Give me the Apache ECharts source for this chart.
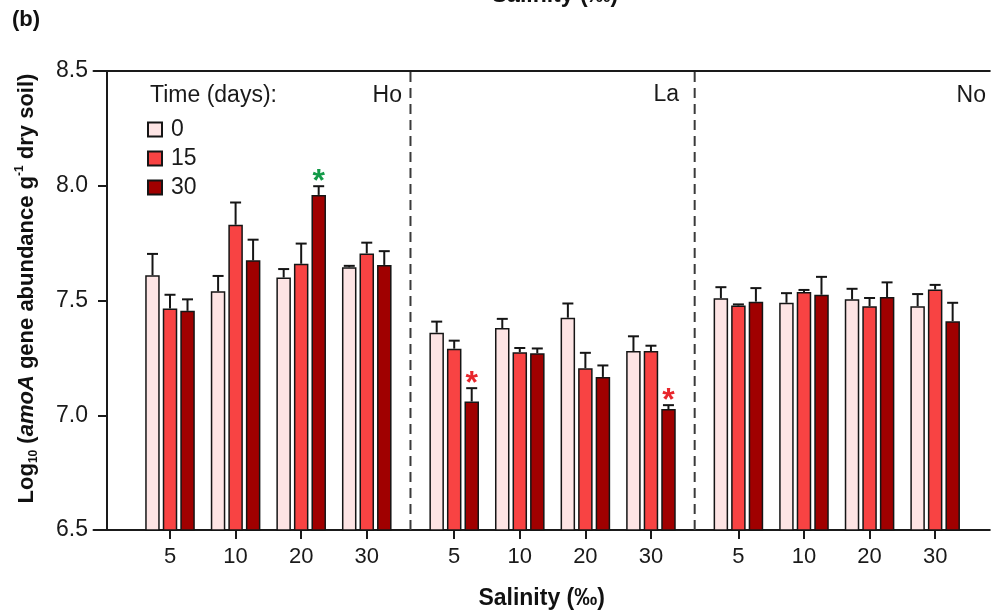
<!DOCTYPE html>
<html>
<head>
<meta charset="utf-8">
<script src="https://cdn.jsdelivr.net/npm/echarts@6/dist/echarts.min.js"></script>
<style>
  html, body { margin: 0; padding: 0; background: #fff; }
  #chart { width: 994px; height: 615px; }
</style>
</head>
<body>
<div id="chart"></div>
<script>
// 分组与类别
var sites = ['Ho', 'La', 'No'];
var salinity = ['5', '10', '20', '30'];
var days = ['0', '15', '30'];

// 均值 (log10 amoA), 顺序: Ho 5,10,20,30 | La 5,10,20,30 | No 5,10,20,30
var mean0  = [7.61, 7.54, 7.60, 7.645, 7.36, 7.38, 7.425, 7.28, 7.51, 7.49, 7.505, 7.475];
var mean15 = [7.465, 7.83, 7.66, 7.705, 7.29, 7.275, 7.205, 7.28, 7.478, 7.537, 7.475, 7.548];
var mean30 = [7.455, 7.675, 7.96, 7.655, 7.06, 7.27, 7.167, 7.027, 7.495, 7.525, 7.515, 7.41];

// 标准误
var err0  = [0.093, 0.067, 0.037, 0.006, 0.048, 0.04, 0.062, 0.064, 0.048, 0.042, 0.046, 0.053];
var err15 = [0.06, 0.097, 0.088, 0.047, 0.035, 0.018, 0.067, 0.023, 0.005, 0.009, 0.036, 0.02];
var err30 = [0.05, 0.09, 0.038, 0.06, 0.058, 0.021, 0.05, 0.017, 0.059, 0.078, 0.064, 0.08];

// 显著性星号: [类别序号, 时间序号, 方向]
var stars = [[2, 2, 'up'], [4, 2, 'down'], [7, 2, 'down']];

var yTicks = [6.5, 7.0, 7.5, 8.0, 8.5];

var colors = ['#fde4e4', '#f84343', '#a00000'];
var starColors = { up: '#139a48', down: '#e8262c' };
var barOffset = [-17.5, 0, 17.5];
var FONT = 'Liberation Sans';

// 类别轴用细分格子, 组间多留一格
function slotOf(i) {
    var g = Math.floor(i / 4), k = i % 4;
    return 3 + g * 13 + k * 3;
}
var nSlots = 41;
var slotNames = [];
for (var s = 0; s < nSlots; s++) slotNames.push('_' + s);
for (var i = 0; i < 12; i++) {
    slotNames[slotOf(i)] = sites[Math.floor(i / 4)] + ' ' + salinity[i % 4];
}
// 组间分隔线所在格子
var dividerSlots = [(slotOf(3) + slotOf(4)) / 2, (slotOf(7) + slotOf(8)) / 2];

var means = [mean0, mean15, mean30];
var errs = [err0, err15, err30];

function barData(d) {
    var a = [];
    for (var i = 0; i < 12; i++) a.push([slotOf(i), means[d][i]]);
    return a;
}
function errData(d) {
    var a = [];
    for (var i = 0; i < 12; i++) a.push([slotOf(i), means[d][i], errs[d][i]]);
    return a;
}

var series = [];
days.forEach(function (day, d) {
    series.push({
        name: day,
        type: 'bar',
        data: barData(d),
        barWidth: 14.5,
        barGap: '21%',
        clip: true,
        itemStyle: { color: colors[d], borderColor: '#151515', borderWidth: 1.5 },
        emphasis: { disabled: true }
    });
    series.push({
        type: 'custom',
        name: 'err' + day,
        data: errData(d),
        z: 5,
        silent: true,
        renderItem: function (params, api) {
            var base = api.coord([api.value(0), api.value(1)]);
            var top = api.coord([api.value(0), api.value(1) + api.value(2)]);
            var x = base[0] + barOffset[d];
            return {
                type: 'group',
                children: [
                    { type: 'line', shape: { x1: x, y1: base[1], x2: x, y2: top[1] },
                      style: { stroke: '#151515', lineWidth: 2 } },
                    { type: 'line', shape: { x1: x - 5.5, y1: top[1], x2: x + 5.5, y2: top[1] },
                      style: { stroke: '#151515', lineWidth: 2 } }
                ]
            };
        }
    });
});

// 组间虚线
series.push({
    type: 'custom',
    name: 'dividers',
    z: 1,
    silent: true,
    data: dividerSlots.map(function (s) { return [s, yTicks[0]]; }),
    renderItem: function (params, api) {
        var lo = api.coord([api.value(0), yTicks[0]]);
        var hi = api.coord([api.value(0), yTicks[yTicks.length - 1]]);
        return {
            type: 'line',
            shape: { x1: lo[0], y1: lo[1], x2: hi[0], y2: hi[1] },
            style: { stroke: '#3a3a3a', lineWidth: 2, lineDash: [10, 6] }
        };
    }
});

// 星号
series.push({
    type: 'custom',
    name: 'stars',
    z: 6,
    silent: true,
    data: stars.map(function (st) {
        var i = st[0], d = st[1];
        return [slotOf(i), means[d][i] + errs[d][i], d];
    }),
    renderItem: function (params, api) {
        var p = api.coord([api.value(0), api.value(1)]);
        var st = stars[params.dataIndex];
        return {
            type: 'text',
            x: p[0] + barOffset[api.value(2)],
            y: p[1] - 4,
            style: {
                text: '*', fontSize: 32, fontWeight: 'bold', fontFamily: FONT,
                fill: starColors[st[2]], align: 'center', verticalAlign: 'middle'
            }
        };
    }
});

var chart = echarts.init(document.getElementById('chart'));
chart.setOption({
    animation: false,
    backgroundColor: '#fff',
    textStyle: { fontFamily: FONT },
    grid: { left: 93.5, right: 4.2, top: 71, bottom: 85, containLabel: false },
    legend: {
        data: days,
        orient: 'vertical',
        left: 147,
        top: 118,
        padding: 0,
        itemWidth: 14,
        itemHeight: 14,
        itemGap: 6,
        icon: 'rect',
        selectedMode: false,
        textStyle: { fontSize: 23, color: '#1a1a1a', fontFamily: FONT, padding: [0, 0, 0, 4] }
    },
    graphic: [
        { type: 'text', left: 12, top: 9,
          style: { text: '(b)', fontSize: 22, fontWeight: 'bold', fontFamily: FONT, fill: '#111' } },
        { type: 'text', x: 150, y: 96,
          style: { text: 'Time (days):', fontSize: 23, fontFamily: FONT, fill: '#1a1a1a', verticalAlign: 'middle' } },
        { type: 'text', x: 402, y: 96,
          style: { text: sites[0], fontSize: 23, fontFamily: FONT, fill: '#1a1a1a', align: 'right', verticalAlign: 'middle' } },
        { type: 'text', x: 679, y: 95,
          style: { text: sites[1], fontSize: 23, fontFamily: FONT, fill: '#1a1a1a', align: 'right', verticalAlign: 'middle' } },
        { type: 'text', x: 986, y: 96,
          style: { text: sites[2], fontSize: 23, fontFamily: FONT, fill: '#1a1a1a', align: 'right', verticalAlign: 'middle' } },
        // 上一幅图残留的横轴标题
        { type: 'text', x: 555, y: 7,
          style: { text: 'Salinity (‰)', fontSize: 23, fontWeight: 'bold', fontFamily: FONT, fill: '#111', align: 'center', verticalAlign: 'bottom' } }
    ],
    xAxis: [{
        type: 'category',
        data: slotNames,
        boundaryGap: true,
        axisLine: { lineStyle: { color: '#1a1a1a', width: 2 } },
        axisTick: {
            show: true, length: 9, inside: false, alignWithLabel: true,
            lineStyle: { color: '#1a1a1a', width: 2 },
            interval: function (idx, val) { return val.charAt(0) !== '_'; }
        },
        axisLabel: {
            interval: function (idx, val) { return val.charAt(0) !== '_'; },
            formatter: function (val) { return val.charAt(0) === '_' ? '' : val.split(' ')[1]; },
            fontSize: 22, color: '#1a1a1a', margin: 16, fontFamily: FONT
        },
        splitLine: { show: false },
        name: 'Salinity (‰)',
        nameLocation: 'middle',
        nameGap: 57,
        nameTextStyle: { fontSize: 23, fontWeight: 'bold', color: '#111', fontFamily: FONT }
    }, {
        type: 'category',
        data: slotNames,
        position: 'top',
        boundaryGap: true,
        axisLine: { lineStyle: { color: '#1a1a1a', width: 2 } },
        axisTick: { show: false },
        axisLabel: { show: false }
    }],
    yAxis: {
        type: 'value',
        min: yTicks[0],
        max: yTicks[yTicks.length - 1],
        interval: 0.5,
        offset: -13.5,
        axisLine: { show: true, lineStyle: { color: '#1a1a1a', width: 2 } },
        axisTick: { show: true, length: 9, lineStyle: { color: '#1a1a1a', width: 2 } },
        axisLabel: {
            fontSize: 23, color: '#1a1a1a', margin: 19, fontFamily: FONT,
            formatter: function (v) { return v.toFixed(1); }
        },
        splitLine: { show: false },
        name: '{b|Log}{sub|10}{b| (}{i|amoA}{b| gene abundance g}{sup|-1}{b| dry soil)}',
        nameLocation: 'middle',
        nameRotate: 90,
        nameGap: 67,
        nameTextStyle: {
            padding: [0, 0, 0, 24],
            rich: {
                b: { fontSize: 22, fontWeight: 'bold', color: '#111', fontFamily: FONT, lineHeight: 26 },
                i: { fontSize: 22, fontWeight: 'bold', fontStyle: 'italic', color: '#111', fontFamily: FONT, lineHeight: 26 },
                sub: { fontSize: 12, fontWeight: 'bold', color: '#111', fontFamily: FONT, verticalAlign: 'bottom', lineHeight: 26 },
                sup: { fontSize: 12, fontWeight: 'bold', color: '#111', fontFamily: FONT, verticalAlign: 'top', lineHeight: 26 }
            }
        }
    },
    series: series
});
</script>
</body>
</html>
